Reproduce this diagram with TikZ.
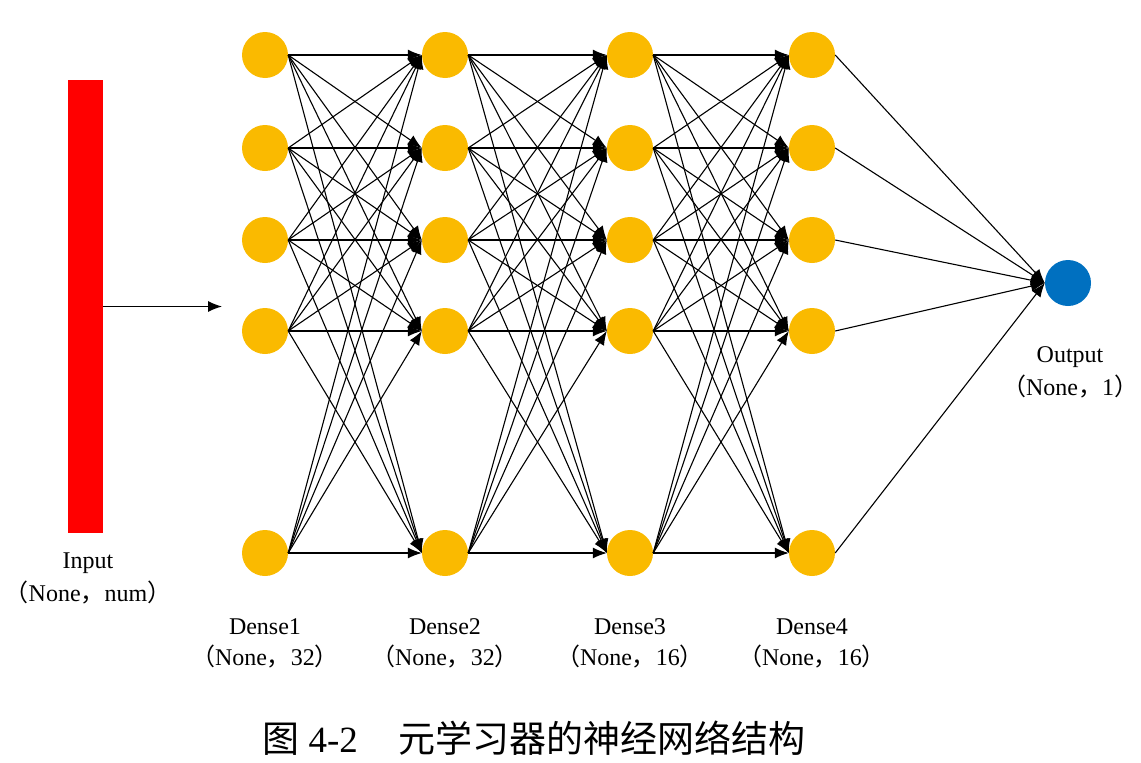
\documentclass[tikz,border=0pt]{standalone}
\usepackage{fontspec}
\setmainfont{Liberation Serif}
\newfontfamily\cjk{Noto Sans CJK SC}
\usetikzlibrary{arrows.meta}
\definecolor{nodeyellow}{RGB}{250,186,0}
\definecolor{nodeblue}{RGB}{0,112,192}
\begin{document}
\begin{tikzpicture}[x=1pt,y=-1pt,
  neuron/.style={circle,fill=nodeyellow,minimum size=46pt,inner sep=0pt},
  outneuron/.style={circle,fill=nodeblue,minimum size=46pt,inner sep=0pt},
  conn/.style={line width=1.1pt,-{Latex[length=14pt,width=11pt]}},
  lbl/.style={font=\fontsize{24}{26}\selectfont,inner sep=0pt}]
\useasboundingbox (0,0) rectangle (1141,763);
% input bar
\node[fill=red,minimum width=35pt,minimum height=453pt,inner sep=0pt] (input) at (85.5,306.5) {};
\coordinate (inarrow) at (222,306.5);
\draw[conn] (input.east) -- (inarrow);
% hidden layers
\foreach \x [count=\l] in {265,445,630,812}{
  \foreach \y [count=\i] in {55,148,240,331,553}{
    \node[neuron] (n\l-\i) at (\x,\y) {};
  }
}
\node[outneuron] (out) at (1068,283) {};
% connections
\foreach \l/\m in {1/2,2/3,3/4}{
  \foreach \i in {1,...,5}{
    \foreach \j in {1,...,5}{
      \draw[conn] (n\l-\i.east) -- (n\m-\j.west);
    }
  }
}
\foreach \i in {1,...,5}{
  \draw[conn] (n4-\i.east) -- (out.west);
}
% labels
\node[lbl] (inlbl) at (88,563) {Input};
\node[lbl] (inshape) at (88,593) {{\cjk （}None{\cjk ，}num{\cjk ）}};
\foreach \x/\n/\s in {265/1/32,445/2/32,630/3/16,812/4/16}{
  \node[lbl] (d\n) at (\x,627) {Dense\n};
  \node[lbl] (ds\n) at (\x,657) {{\cjk （}None{\cjk ，}\s{\cjk ）}};
}
\node[lbl] (outlbl) at (1070,357) {Output};
\node[lbl] (outshape) at (1070,387) {{\cjk （}None{\cjk ，}1{\cjk ）}};
% caption
\node[font=\fontsize{37}{40}\selectfont,inner sep=0pt] (caption) at (534,738) {{\cjk 图} 4-2\hspace{1.1em}{\cjk 元学习器的神经网络结构}};
\end{tikzpicture}
\end{document}
